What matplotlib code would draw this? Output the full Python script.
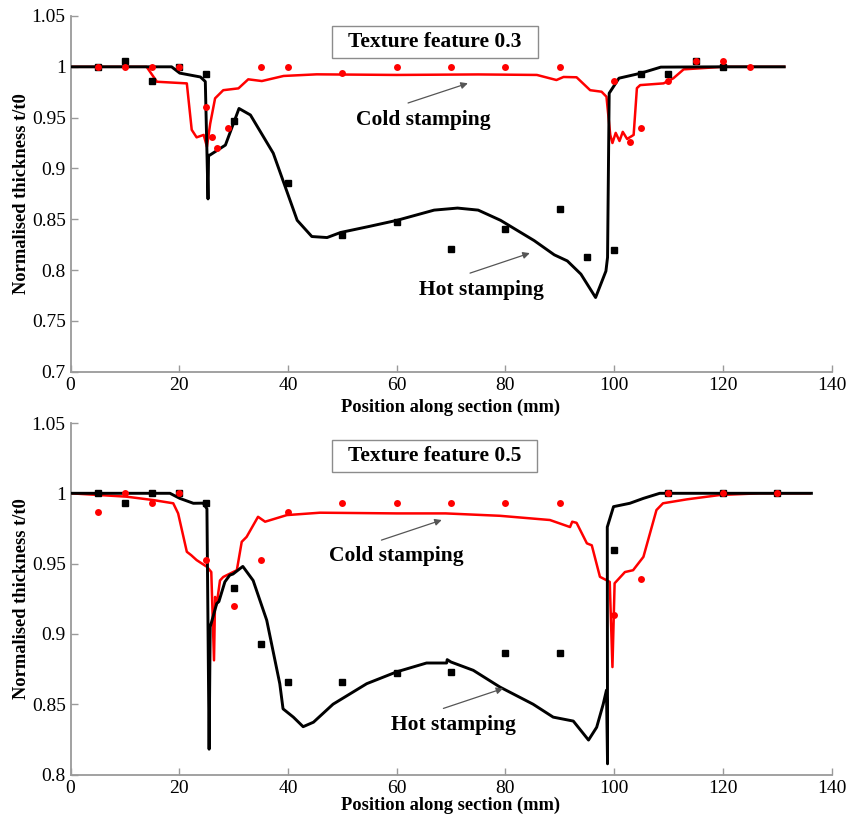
import matplotlib
matplotlib.use("Agg")
import matplotlib.pyplot as plt
from matplotlib.patches import Rectangle
import numpy as np

plt.rcParams['font.family'] = ['Liberation Serif', 'DejaVu Serif']

# ---------------- Top panel (texture feature 0.3) ----------------
top_hot_x = [0, 18.6, 20.1, 23.9, 24.8, 25.3, 25.4, 25.6, 28.5, 31.0, 33.1, 37.3, 41.7, 44.4,
             47.2, 49.7, 55.0, 60.1, 66.9, 71.2, 75.0, 79.1, 85.3, 89.0, 91.4, 93.9, 96.6,
             98.5, 98.8, 99.1, 100.9, 104.9, 108.6, 120.0, 131.3]
top_hot_y = [1.0, 1.0, 0.9938, 0.990, 0.9855, 0.870, 0.913, 0.913, 0.923, 0.959, 0.9526, 0.915,
             0.849, 0.833, 0.832, 0.837, 0.843, 0.849, 0.859, 0.861, 0.859, 0.849, 0.829,
             0.815, 0.809, 0.796, 0.773, 0.799, 0.8125, 0.974, 0.9888, 0.9937, 0.9997, 1.0, 1.0]

top_cold_x = [0, 14.0, 15.9, 21.4, 22.3, 23.2, 24.5, 25.1, 25.7, 26.6, 28.1, 30.9, 32.7, 35.2,
              39.2, 45.3, 60.0, 75.0, 85.8, 89.4, 90.7, 93.1, 95.6, 97.7, 98.6, 99.3, 99.7,
              100.3, 101.0, 101.6, 102.4, 103.6, 104.2, 104.8, 109.1, 110.9, 112.8, 120.0, 131.3]
top_cold_y = [1.0, 1.0, 0.9853, 0.9837, 0.938, 0.9306, 0.933, 0.9214, 0.944, 0.969, 0.977,
              0.9788, 0.9877, 0.986, 0.991, 0.9926, 0.992, 0.9925, 0.992, 0.987, 0.990,
              0.9897, 0.977, 0.9755, 0.9706, 0.933, 0.925, 0.935, 0.927, 0.936, 0.929,
              0.933, 0.979, 0.982, 0.9837, 0.9887, 0.9975, 1.0, 1.0]

top_hot_exp_x = [5, 10, 15, 20, 25, 30, 40, 50, 60, 70, 80, 90, 95, 100, 105, 110, 115, 120]
top_hot_exp_y = [1.0, 1.006, 0.9865, 1.0, 0.993, 0.947, 0.886, 0.8345, 0.8476, 0.8204, 0.840,
                 0.860, 0.813, 0.820, 0.9926, 0.9926, 1.006, 1.0]

top_cold_exp_x = [5, 10, 15, 20, 25, 26, 27, 29, 35, 40, 50, 60, 70, 80, 90, 100, 103, 105,
                  110, 115, 120, 125]
top_cold_exp_y = [1.0, 1.0, 1.0, 1.0, 0.96, 0.931, 0.92, 0.94, 1.0, 1.0, 0.9936, 1.0, 1.0, 1.0,
                  1.0, 0.986, 0.926, 0.94, 0.986, 1.006, 1.006, 1.0]

# ---------------- Bottom panel (texture feature 0.5) ----------------
bot_hot_x = [0, 18.3, 20.1, 22.6, 24.4, 25.1, 25.5, 25.7, 26.9, 27.3, 28.4, 29.3, 29.9, 31.7,
             33.6, 36.1, 38.5, 39.1, 41.0, 42.8, 44.7, 48.3, 54.5, 60.0, 65.5, 69.2, 69.3,
             70.0, 74.1, 79.0, 85.1, 88.8, 92.5, 95.3, 96.8, 98.0, 98.6, 98.8, 98.75, 99.9,
             102.9, 105.4, 108.4, 120.0, 136.3]
bot_hot_y = [1.0, 1.0, 0.9964, 0.9929, 0.993, 0.989, 0.818, 0.905, 0.9216, 0.923, 0.937,
             0.9418, 0.9426, 0.948, 0.938, 0.9097, 0.8646, 0.8467, 0.8408, 0.834, 0.8372,
             0.850, 0.8646, 0.873, 0.8793, 0.8793, 0.8817, 0.880, 0.8741, 0.8622, 0.850,
             0.8408, 0.838, 0.8245, 0.8336, 0.850, 0.860, 0.8076, 0.976, 0.9905, 0.9929,
             0.9964, 1.0, 1.0, 1.0]

bot_cold_x = [0, 10.3, 15.2, 18.9, 19.8, 21.4, 22.2, 23.2, 25.1, 25.9, 26.4, 26.6, 26.9, 27.5,
              28.1, 30.6, 31.5, 32.4, 34.5, 35.8, 39.8, 45.9, 60.0, 69.0, 79.0, 88.2, 91.9,
              92.3, 93.1, 95.0, 95.9, 97.4, 99.2, 99.7, 100.1, 102.0, 103.5, 105.4, 107.8,
              109.0, 113.4, 119.5, 126.8, 136.0]
bot_cold_y = [1.0, 0.9976, 0.9952, 0.9929, 0.9857, 0.9584, 0.956, 0.9525, 0.9477, 0.944,
              0.8812, 0.9263, 0.921, 0.938, 0.9405, 0.9453, 0.9655, 0.969, 0.9833, 0.9798,
              0.9845, 0.9862, 0.9857, 0.9857, 0.984, 0.981, 0.976, 0.9798, 0.979, 0.9644,
              0.963, 0.9406, 0.937, 0.8764, 0.936, 0.944, 0.9453, 0.9548, 0.9881, 0.9929,
              0.9957, 0.9988, 1.0, 1.0]

bot_hot_exp_x = [5, 10, 15, 20, 25, 30, 35, 40, 50, 60, 70, 80, 90, 100, 110, 120, 130]
bot_hot_exp_y = [1.0, 0.993, 1.0, 1.0, 0.993, 0.933, 0.893, 0.8657, 0.8657, 0.872, 0.873,
                 0.8864, 0.8864, 0.9596, 1.0, 1.0, 1.0]

bot_cold_exp_x = [5, 10, 15, 20, 25, 30, 35, 40, 50, 60, 70, 80, 90, 100, 105, 110, 120, 130]
bot_cold_exp_y = [0.9865, 1.0, 0.9933, 1.0, 0.9525, 0.92, 0.9525, 0.9865, 0.9933, 0.9933,
                  0.9933, 0.9933, 0.9933, 0.9133, 0.9394, 1.0, 1.0, 1.0]

x_ticks = [0, 20, 40, 60, 80, 100, 120, 140]
top_yticks = [0.7, 0.75, 0.8, 0.85, 0.9, 0.95, 1.0, 1.05]
bot_yticks = [0.8, 0.85, 0.9, 0.95, 1.0, 1.05]

W, H = 859, 816
fig = plt.figure(figsize=(W / 100, H / 100), dpi=100)

def px_axes(l, t, r, b):
    return fig.add_axes([l / W, 1 - b / H, (r - l) / W, (b - t) / H])

ax1 = px_axes(70.5, 16, 831.5, 371.7)
ax2 = px_axes(70.5, 423, 831.5, 774.5)

def style(ax, yticks, ylim, xlabelpad):
    ax.set_xlim(0, 140)
    ax.set_ylim(*ylim)
    ax.set_xticks(x_ticks)
    ax.set_yticks(yticks)
    ax.set_yticklabels([('%g' % v) for v in yticks])
    for s in ['top', 'right']:
        ax.spines[s].set_visible(False)
    for s in ['left', 'bottom']:
        ax.spines[s].set_color('#9a9a9a')
        ax.spines[s].set_linewidth(1.3)
    ax.tick_params(direction='in', length=5, width=1, color='#9a9a9a', labelsize=14)
    ax.tick_params(axis='x', pad=4)
    ax.tick_params(axis='y', pad=3.5)
    ax.set_xlabel('Position along section (mm)', fontsize=13.3, fontweight='bold',
                  labelpad=xlabelpad)
    ax.set_ylabel('Normalised thickness t/t0', fontsize=13.3, fontweight='bold', labelpad=1)

def draw(ax, hx, hy, cx, cy, hex_, hey, cex, cey):
    ax.plot(hx, hy, color='black', lw=2.1, zorder=3, solid_joinstyle='round')
    ax.plot(cx, cy, color='#ff0000', lw=1.8, zorder=2, solid_joinstyle='round')
    ax.plot(hex_, hey, 's', color='black', ms=4.8, zorder=4, ls='none')
    ax.plot(cex, cey, 'o', color='#ff0000', ms=5, mec='none', zorder=5, ls='none')

style(ax1, top_yticks, (0.7, 1.05), 3)
style(ax2, bot_yticks, (0.8, 1.05), 0)
draw(ax1, top_hot_x, top_hot_y, top_cold_x, top_cold_y,
     top_hot_exp_x, top_hot_exp_y, top_cold_exp_x, top_cold_exp_y)
draw(ax2, bot_hot_x, bot_hot_y, bot_cold_x, bot_cold_y,
     bot_hot_exp_x, bot_hot_exp_y, bot_cold_exp_x, bot_cold_exp_y)

txt = dict(fontsize=15.5, fontweight='bold', ha='center', va='center')
arr = dict(arrowstyle='-|>', color='#555555', lw=0.9, mutation_scale=10, shrinkA=0, shrinkB=0)

def titlebox(ax, x0, y0, x1, y1, label):
    ax.add_patch(Rectangle((x0, y0), x1 - x0, y1 - y0, fc='white', ec='#8c8c8c',
                           lw=1.0, clip_on=False, zorder=6))
    ax.text((x0 + x1) / 2, (y0 + y1) / 2, label, zorder=7, **txt)

titlebox(ax1, 48.1, 1.009, 86.0, 1.0402, 'Texture feature 0.3')
ax1.text(64.9, 0.9476, 'Cold stamping', **txt)
ax1.annotate('', xy=(73.1, 0.9838), xytext=(62.1, 0.9644), arrowprops=arr)
ax1.text(75.6, 0.7803, 'Hot stamping', **txt)
ax1.annotate('', xy=(84.5, 0.8167), xytext=(73.5, 0.797), arrowprops=arr)

titlebox(ax2, 48.1, 1.0152, 85.8, 1.038, 'Texture feature 0.5')
ax2.text(60.0, 0.9553, 'Cold stamping', **txt)
ax2.annotate('', xy=(68.3, 0.981), xytext=(57.2, 0.9667), arrowprops=arr)
ax2.text(70.4, 0.835, 'Hot stamping', **txt)
ax2.annotate('', xy=(79.6, 0.8612), xytext=(68.6, 0.847), arrowprops=arr)

fig.savefig('out.png', dpi=100)
